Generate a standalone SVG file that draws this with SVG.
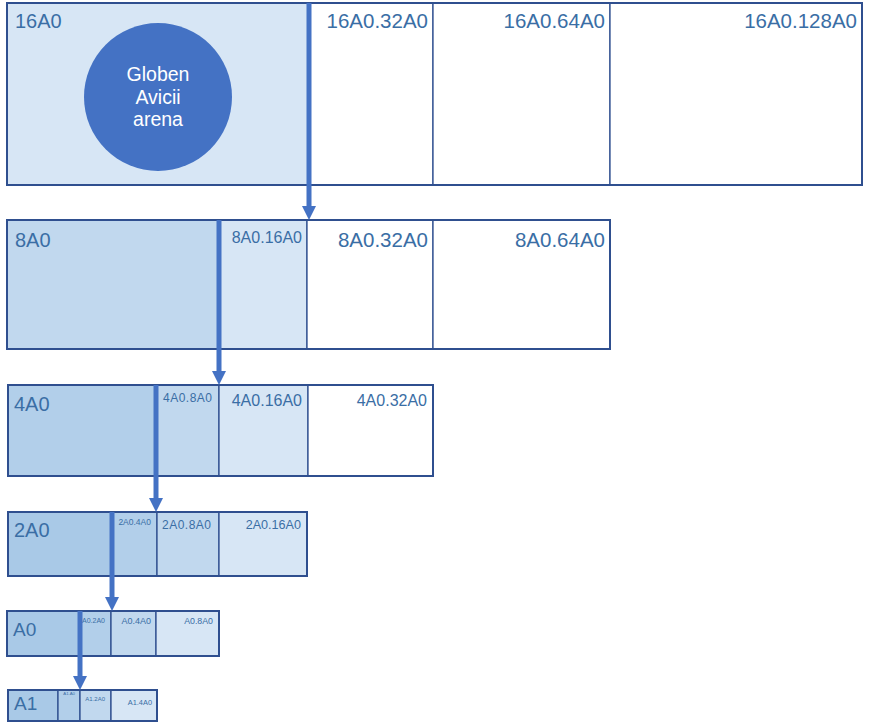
<svg xmlns="http://www.w3.org/2000/svg" width="870" height="728" viewBox="0 0 870 728">
<style>
.c{stroke:#2f4f8f;stroke-width:1.3}
.row{fill:none;stroke:#2f4f8f;stroke-width:2}
.l0{fill:#d7e6f5}.l1{fill:#c1d8ee}.l2{fill:#b2cfea}.l3{fill:#a9c9e7}.w{fill:#ffffff}
text{font-family:"Liberation Sans",Arial,sans-serif;fill:#3a6ea5}
.e{text-anchor:end}
.ct{fill:#ffffff;text-anchor:middle;font-size:19.5px}
.arr{stroke:#4472c4;stroke-width:5;fill:none}
</style>
<defs>
<marker id="ah" viewBox="0 0 14 14" refX="8" refY="7" markerWidth="14" markerHeight="14" markerUnits="userSpaceOnUse" orient="auto">
<path d="M0,0 L14,7 L0,14 z" fill="#4472c4"/>
</marker>
</defs>
<rect width="870" height="728" fill="#ffffff"/>

<g id="row-16A0">
<g id="n-16A0"><rect class="c l0" x="7" y="3" width="301" height="182"/><text x="15" y="28" font-size="20">16A0</text></g>
<g id="n-16A0-32A0"><rect class="c w" x="308" y="3" width="125" height="182"/><text class="e" x="428" y="28" font-size="20.5">16A0.32A0</text></g>
<g id="n-16A0-64A0"><rect class="c w" x="433" y="3" width="177" height="182"/><text class="e" x="605" y="28" font-size="20.5">16A0.64A0</text></g>
<g id="n-16A0-128A0"><rect class="c w" x="610" y="3" width="252" height="182"/><text class="e" x="857" y="28" font-size="20.5">16A0.128A0</text></g>
<rect class="row" x="7" y="3" width="855" height="182"/>
<g id="n-globen"><circle cx="158" cy="97" r="74" fill="#4472c4"/>
<text class="ct" x="158" y="81">Globen</text><text class="ct" x="158" y="104">Avicii</text><text class="ct" x="158" y="126">arena</text></g>
</g>

<g id="row-8A0">
<g id="n-8A0"><rect class="c l1" x="7" y="220" width="212" height="129"/><text x="15" y="247" font-size="20">8A0</text></g>
<g id="n-8A0-16A0"><rect class="c l0" x="219" y="220" width="88" height="129"/><text class="e" x="302" y="243" font-size="16">8A0.16A0</text></g>
<g id="n-8A0-32A0"><rect class="c w" x="307" y="220" width="126" height="129"/><text class="e" x="428" y="247" font-size="20.5">8A0.32A0</text></g>
<g id="n-8A0-64A0"><rect class="c w" x="433" y="220" width="177" height="129"/><text class="e" x="605" y="247" font-size="20.5">8A0.64A0</text></g>
<rect class="row" x="7" y="220" width="603" height="129"/>
</g>

<g id="row-4A0">
<g id="n-4A0"><rect class="c l2" x="8" y="385" width="148" height="91"/><text x="14" y="411" font-size="20">4A0</text></g>
<g id="n-4A0-8A0"><rect class="c l1" x="156" y="385" width="63" height="91"/><text class="e" x="212" y="402" font-size="12" textLength="49" lengthAdjust="spacing">4A0.8A0</text></g>
<g id="n-4A0-16A0"><rect class="c l0" x="219" y="385" width="89" height="91"/><text class="e" x="302" y="406" font-size="16">4A0.16A0</text></g>
<g id="n-4A0-32A0"><rect class="c w" x="308" y="385" width="125" height="91"/><text class="e" x="427" y="406" font-size="16">4A0.32A0</text></g>
<rect class="row" x="8" y="385" width="425" height="91"/>
</g>

<g id="row-2A0">
<g id="n-2A0"><rect class="c l3" x="8" y="512" width="104" height="64"/><text x="14" y="537" font-size="20">2A0</text></g>
<g id="n-2A0-4A0"><rect class="c l2" x="112" y="512" width="45" height="64"/><text class="e" x="151" y="525" font-size="8.5">2A0.4A0</text></g>
<g id="n-2A0-8A0"><rect class="c l1" x="157" y="512" width="62" height="64"/><text class="e" x="211" y="529" font-size="12" textLength="49" lengthAdjust="spacing">2A0.8A0</text></g>
<g id="n-2A0-16A0"><rect class="c l0" x="219" y="512" width="88" height="64"/><text class="e" x="301" y="529" font-size="12.6">2A0.16A0</text></g>
<rect class="row" x="8" y="512" width="299" height="64"/>
</g>

<g id="row-A0">
<g id="n-A0"><rect class="c l3" x="7" y="611" width="73" height="45"/><text x="13" y="636" font-size="19">A0</text></g>
<g id="n-A0-2A0"><rect class="c l2" x="80" y="611" width="31" height="45"/><text class="e" x="105" y="623" font-size="7">A0.2A0</text></g>
<g id="n-A0-4A0"><rect class="c l1" x="111" y="611" width="45" height="45"/><text class="e" x="151" y="624" font-size="9">A0.4A0</text></g>
<g id="n-A0-8A0"><rect class="c l0" x="156" y="611" width="63" height="45"/><text class="e" x="213" y="624" font-size="8.8">A0.8A0</text></g>
<rect class="row" x="7" y="611" width="212" height="45"/>
</g>

<g id="row-A1">
<g id="n-A1"><rect class="c l3" x="8" y="690" width="50" height="31"/><text x="14" y="710" font-size="19">A1</text></g>
<g id="n-A1-A0"><rect class="c l2" x="58" y="690" width="22" height="31"/><text class="e" x="75" y="695" font-size="4.3">A1.A0</text></g>
<g id="n-A1-2A0"><rect class="c l1" x="80" y="690" width="31" height="31"/><text class="e" x="105" y="701" font-size="6">A1.2A0</text></g>
<g id="n-A1-4A0"><rect class="c l0" x="111" y="690" width="46" height="31"/><text class="e" x="152" y="705" font-size="7.4">A1.4A0</text></g>
<rect class="row" x="8" y="690" width="149" height="31"/>
</g>

<g id="connectors">
<line class="arr" x1="309" y1="3" x2="309" y2="214" marker-end="url(#ah)"/>
<line class="arr" x1="219" y1="220" x2="219" y2="379" marker-end="url(#ah)"/>
<line class="arr" x1="156" y1="385" x2="156" y2="506" marker-end="url(#ah)"/>
<line class="arr" x1="112" y1="512" x2="112" y2="605" marker-end="url(#ah)"/>
<line class="arr" x1="80" y1="611" x2="80" y2="684" marker-end="url(#ah)"/>
</g>
</svg>
